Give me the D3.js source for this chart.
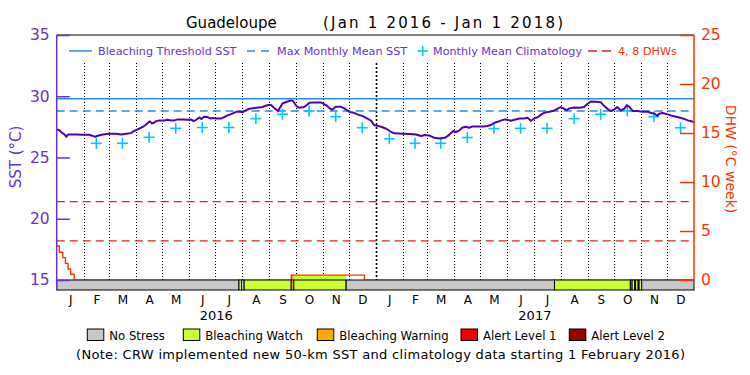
<!DOCTYPE html>
<html><head><meta charset="utf-8">
<script src="https://cdn.jsdelivr.net/npm/d3@7"></script>
<style>
body{margin:0;background:#fff}
svg{display:block}
text{font-family:"DejaVu Sans",sans-serif}
</style>
</head><body>
<svg id="c" width="750" height="375"></svg>
<script>
// ---------------- DATA ----------------
const titleText = "Guadeloupe";
const periodText = "(Jan 1 2016 - Jan 1 2018)";
const monthLetters = ["J","F","M","A","M","J","J","A","S","O","N","D"];
const yearLabels = ["2016","2017"];
const legendLabels = ["Bleaching Threshold SST","Max Monthly Mean SST","Monthly Mean Climatology","4, 8 DHWs"];
const noteText = "(Note: CRW implemented new 50-km SST and climatology data starting 1 February 2016)";
const sstTitle = "SST (°C)";
const dhwTitle = "DHW (°C week)";

// daily SST, days counted from 2016-01-01
const sstDay = [0,3,5,9,11,13,22,30,37,41,44,48,53,60,68,74,80,85,88,91,95,99,102,105,107,109,112,114,118,124,127,131,135,139,145,150,154,157,160,164,166,169,173,176,179,183,189,192,196,200,206,210,213,216,221,229,236,239,242,246,250,254,255,259,264,269,271,275,278,284,290,296,303,309,313,316,320,326,330,336,341,345,351,357,361,364,
  366,372,378,382,387,397,405,412,418,422,427,433,439,445,449,452,455,458,462,465,469,473,477,483,489,494,498,502,506,510,514,517,521,525,531,536,540,544,548,552,556,559,565,571,575,578,582,585,588,594,600,605,609,613,619,624,628,632,636,640,643,647,651,654,657,661,666,672,678,682,686,689,691,695,701,707,712,718,724,730,731];
const sstValue = [27.29,27.24,27.07,26.88,26.69,26.88,26.88,26.86,26.86,26.78,26.69,26.80,26.88,26.94,26.94,26.88,26.94,26.99,27.13,27.24,27.37,27.51,27.65,27.86,27.95,27.78,27.86,27.97,28.03,28.03,28.08,28.03,28.03,28.11,28.11,28.08,28.11,27.97,28.08,28.27,28.14,28.33,28.30,28.19,28.22,28.19,28.19,28.30,28.44,28.54,28.73,28.76,28.68,28.82,28.98,29.06,29.12,29.20,29.28,29.28,29.01,28.79,28.93,29.41,29.55,29.66,29.61,29.20,29.06,29.12,29.47,29.50,29.50,29.28,29.01,28.90,29.14,29.14,29.01,28.71,28.65,28.52,28.38,28.16,27.97,27.65,
  27.62,27.51,27.35,27.16,26.97,26.94,26.91,26.88,26.75,26.83,26.80,26.61,26.56,26.61,26.78,26.97,27.16,27.08,27.21,27.43,27.51,27.43,27.54,27.54,27.54,27.57,27.65,27.84,27.92,28.03,28.11,28.08,28.00,28.08,28.19,28.19,28.24,28.00,28.19,28.30,28.52,28.65,28.73,28.84,29.01,29.12,28.98,28.87,29.01,29.09,29.06,29.12,29.39,29.58,29.55,29.52,29.20,28.95,28.79,28.95,29.12,28.84,28.98,29.28,29.12,28.79,28.79,28.73,28.73,28.63,28.57,28.41,28.57,28.63,28.52,28.38,28.30,28.19,28.03,27.92,27.81];

// monthly mean climatology (plotted mid-month)
const climMonth = ["2016-02","2016-03","2016-04","2016-05","2016-06","2016-07","2016-08","2016-09","2016-10","2016-11","2016-12",
  "2017-01","2017-02","2017-03","2017-04","2017-05","2017-06","2017-07","2017-08","2017-09","2017-10","2017-11","2017-12"];
const climValue = [26.16,26.16,26.65,27.38,27.45,27.45,28.17,28.53,28.80,28.33,27.43,
  26.53,26.16,26.16,26.63,27.36,27.38,27.38,28.17,28.53,28.80,28.33,27.43];

const bleachingThreshold = 29.8;
const maxMonthlyMean = 28.8;
const dhwLevels = [4, 8];

// degree heating weeks (step values), days from 2016-01-01
const dhwDay = [0,3,7,10,13,16,20,269,353,731];
const dhwValue = [3.47,2.83,2.28,1.70,1.12,0.58,0,0.5,0,0];

// stress level periods, days from 2016-01-01
const statusStart = [0,209,212,215,269,272,332,571,658,660,663,664,667,668,671];
const statusEnd   = [209,212,215,269,272,332,571,658,660,663,664,667,668,671,731];
const statusLevel = [0,1,0,1,2,1,0,1,0,1,0,1,0,1,0];
const statusNames = ["No Stress","Bleaching Watch","Bleaching Warning","Alert Level 1","Alert Level 2"];
const statusColors = ["#c8c8c8","#ccff33","#ffaa00","#ee0000","#990000"];

// ---------------- STYLE ----------------
const PURPLE = "#6633cc", LINEPURPLE = "#5200b0", BLUE = "#2090e8", CYAN = "#00c8ff",
      RED = "#ee1c1c", ORANGE = "#ff3300";
const X0 = 56.7, X1 = 694, YTOP = 35, YBASE = 280, YBAR = 290;

const svg = d3.select("#c");
const t0 = new Date(Date.UTC(2016,0,1)), t1 = new Date(Date.UTC(2018,0,1));
const dayDate = d => d3.utcDay.offset(t0, d);
const x = d3.scaleUtc().domain([t0, t1]).range([X0, X1]);
const ySST = d3.scaleLinear().domain([15, 35]).range([YBASE, YTOP]);
const yDHW = d3.scaleLinear().domain([0, 25]).range([YBASE, YTOP]);

// title
svg.append("text").attr("x", 186).attr("y", 28).attr("font-size", 15).text(titleText);
svg.append("text").attr("x", 323).attr("y", 28).attr("font-size", 15)
  .attr("textLength", 240).attr("lengthAdjust", "spacing").text(periodText);

// top frame line
svg.append("line").attr("x1", X0).attr("x2", X1).attr("y1", YTOP).attr("y2", YTOP)
  .attr("stroke", "#000").attr("stroke-width", 1.2);

// vertical month dividers
const monthStarts = d3.utcMonth.range(d3.utcMonth.offset(t0, 1), t1);
svg.append("g").selectAll("line").data(monthStarts).join("line")
  .attr("x1", d => Math.round(x(d)) + 0.5).attr("x2", d => Math.round(x(d)) + 0.5)
  .attr("y1", 63).attr("y2", YBASE)
  .attr("stroke", "#000")
  .attr("stroke-width", d => d.getUTCMonth() === 0 ? 1.6 : 1)
  .attr("stroke-dasharray", d => d.getUTCMonth() === 0 ? "2,2" : "1,2");

// DHW reference lines
svg.append("g").selectAll("line").data(dhwLevels).join("line")
  .attr("x1", X0).attr("x2", X1).attr("y1", d => yDHW(d)).attr("y2", d => yDHW(d))
  .attr("stroke", RED).attr("stroke-width", 1.3).attr("stroke-dasharray", "8,5");

// threshold & MMM
svg.append("line").attr("x1", X0).attr("x2", X1)
  .attr("y1", ySST(bleachingThreshold)).attr("y2", ySST(bleachingThreshold))
  .attr("stroke", BLUE).attr("stroke-width", 1.5);
svg.append("line").attr("x1", X0).attr("x2", X1)
  .attr("y1", ySST(maxMonthlyMean)).attr("y2", ySST(maxMonthlyMean))
  .attr("stroke", BLUE).attr("stroke-width", 1.5).attr("stroke-dasharray", "8,5");

// DHW series
const dhwPts = dhwDay.map((d, i) => ({ t: dayDate(d), v: dhwValue[i] }));
const bis = d3.bisector(p => p.t).right;
const dhwAt = t => dhwPts[Math.max(0, bis(dhwPts, t) - 1)].v;
const statusSeg = statusStart.map((s, i) => ({ s: dayDate(s), e: dayDate(statusEnd[i]), lvl: statusLevel[i] }));

// fill under DHW for stress periods
const area = d3.area().curve(d3.curveStepAfter).x(p => x(p.t)).y0(YBASE).y1(p => yDHW(p.v));
statusSeg.filter(s => s.lvl > 0).forEach(s => {
  const pts = dhwPts.filter(p => p.t > s.s && p.t < s.e);
  const seq = [{ t: s.s, v: dhwAt(s.s) }, ...pts, { t: s.e, v: dhwAt(d3.utcDay.offset(s.e, -1)) }];
  svg.append("path").datum(seq).attr("d", area).attr("fill", statusColors[s.lvl]);
});
svg.append("clipPath").attr("id", "abovebar").append("rect")
  .attr("x", 0).attr("y", 0).attr("width", 750).attr("height", YBASE - 0.6);
svg.append("path").datum(dhwPts)
  .attr("clip-path", "url(#abovebar)")
  .attr("d", d3.line().curve(d3.curveStepAfter).x(p => x(p.t)).y(p => yDHW(p.v)))
  .attr("fill", "none").attr("stroke", ORANGE).attr("stroke-width", 1.4);

// stress bar
svg.append("g").selectAll("rect").data(statusSeg).join("rect")
  .attr("x", d => x(d.s)).attr("width", d => x(d.e) - x(d.s))
  .attr("y", YBASE).attr("height", YBAR - YBASE)
  .attr("fill", d => statusColors[d.lvl]).attr("stroke", "#000").attr("stroke-width", 1);

// climatology markers
const climPts = climMonth.map((m, i) => {
  const [yy, mm] = m.split("-").map(Number);
  const a = new Date(Date.UTC(yy, mm - 1, 1));
  const b = d3.utcMonth.offset(a, 1);
  return { t: new Date((+a + +b) / 2), v: climValue[i] };
});
const plus = (g, cx, cy, r) => {
  g.append("line").attr("x1", cx - r).attr("x2", cx + r).attr("y1", cy).attr("y2", cy);
  g.append("line").attr("x1", cx).attr("x2", cx).attr("y1", cy - r).attr("y2", cy + r);
};
const gClim = svg.append("g").attr("stroke", CYAN).attr("stroke-width", 1.6);
climPts.forEach(p => plus(gClim, x(p.t), ySST(p.v), 5.5));

// SST line
const sstPts = sstDay.map((d, i) => ({ t: dayDate(d), v: sstValue[i] }));
svg.append("path").datum(sstPts)
  .attr("d", d3.line().x(p => x(p.t)).y(p => ySST(p.v)))
  .attr("fill", "none").attr("stroke", LINEPURPLE).attr("stroke-width", 2).attr("stroke-linejoin", "round");

// left axis
const gL = svg.append("g").attr("transform", `translate(${X0},0)`);
gL.call(d3.axisLeft(ySST).tickValues(ySST.ticks(20)).tickSize(-7).tickFormat(""));
gL.call(d3.axisLeft(ySST).tickValues(ySST.ticks(4)).tickSize(-13).tickPadding(7).tickFormat(d3.format("d")));
gL.selectAll(".domain").remove();
gL.selectAll("line").attr("stroke", PURPLE).attr("stroke-width", 1.5);
gL.selectAll("text").attr("fill", PURPLE).attr("font-size", 15.5).attr("font-family", "DejaVu Sans");
svg.append("line").attr("x1", X0).attr("x2", X0).attr("y1", YTOP).attr("y2", YBAR)
  .attr("stroke", PURPLE).attr("stroke-width", 1.5);

// right axis
const gR = svg.append("g").attr("transform", `translate(${X1},0)`);
gR.call(d3.axisRight(yDHW).tickValues(yDHW.ticks(25)).tickSize(-7).tickFormat(""));
gR.call(d3.axisRight(yDHW).tickValues(yDHW.ticks(5)).tickSize(-14).tickPadding(7).tickFormat(d3.format("d")));
gR.selectAll(".domain").remove();
gR.selectAll("line").attr("stroke", ORANGE).attr("stroke-width", 1.5);
gR.selectAll("text").attr("fill", ORANGE).attr("font-size", 15.5).attr("font-family", "DejaVu Sans");
svg.append("line").attr("x1", X1).attr("x2", X1).attr("y1", YTOP).attr("y2", YBASE)
  .attr("stroke", ORANGE).attr("stroke-width", 1.5);

// axis titles
svg.append("text").attr("transform", "translate(21,157) rotate(-90)")
  .attr("text-anchor", "middle").attr("font-size", 15).attr("fill", PURPLE).text(sstTitle);
svg.append("text").attr("transform", "translate(726,159) rotate(90)")
  .attr("text-anchor", "middle").attr("font-size", 14).attr("fill", ORANGE).text(dhwTitle);

// bottom month labels
const months = d3.utcMonth.range(t0, t1);
const midMonths = months.map(m => new Date((+m + +d3.utcMonth.offset(m, 1)) / 2));
const gB = svg.append("g").attr("transform", `translate(0,${YBAR})`)
  .call(d3.axisBottom(x).tickValues(midMonths).tickSize(0).tickPadding(5)
    .tickFormat(d => monthLetters[d.getUTCMonth()]));
gB.selectAll(".domain").remove();
gB.selectAll("text").attr("fill", "#000").attr("font-size", 12).attr("font-family", "DejaVu Sans");

// year labels
const years = d3.utcYear.range(t0, t1);
svg.append("g").selectAll("text").data(years).join("text")
  .attr("x", d => x(new Date((+d + +d3.utcYear.offset(d, 1)) / 2)))
  .attr("y", 320).attr("text-anchor", "middle").attr("font-size", 13)
  .text((d, i) => yearLabels[i]);

// top legend
const LY = 51;
const gT = svg.append("g").attr("font-size", 11.2);
gT.append("line").attr("x1", 69).attr("x2", 92).attr("y1", LY).attr("y2", LY).attr("stroke", BLUE).attr("stroke-width", 1.5);
gT.append("text").attr("x", 98).attr("y", LY + 4).attr("fill", PURPLE).text(legendLabels[0]);
gT.append("line").attr("x1", 247).attr("x2", 270).attr("y1", LY).attr("y2", LY).attr("stroke", BLUE)
  .attr("stroke-width", 1.5).attr("stroke-dasharray", "8,6");
gT.append("text").attr("x", 277).attr("y", LY + 4).attr("fill", PURPLE).text(legendLabels[1]);
const gTp = gT.append("g").attr("stroke", CYAN).attr("stroke-width", 1.6);
plus(gTp, 422.7, LY, 5);
gT.append("text").attr("x", 433).attr("y", LY + 4).attr("fill", PURPLE).text(legendLabels[2]);
gT.append("line").attr("x1", 588).attr("x2", 611).attr("y1", LY).attr("y2", LY).attr("stroke", RED)
  .attr("stroke-width", 1.3).attr("stroke-dasharray", "9,5");
gT.append("text").attr("x", 618).attr("y", LY + 4).attr("fill", ORANGE).text(legendLabels[3]);

// bottom legend
const legBoxX = [87.3, 183.3, 317.3, 461, 569.3];
const gLeg = svg.append("g");
statusNames.forEach((n, i) => {
  gLeg.append("rect").attr("x", legBoxX[i]).attr("y", 329).attr("width", 16.5).attr("height", 11.5)
    .attr("fill", statusColors[i]).attr("stroke", "#000").attr("stroke-width", 1);
  gLeg.append("text").attr("x", legBoxX[i] + 22).attr("y", 339.5).attr("font-size", 11.7).text(n);
});

// note
svg.append("text").attr("x", 76).attr("y", 359).attr("font-size", 13)
  .attr("textLength", 609).attr("lengthAdjust", "spacing").text(noteText);
</script>
</body></html>
